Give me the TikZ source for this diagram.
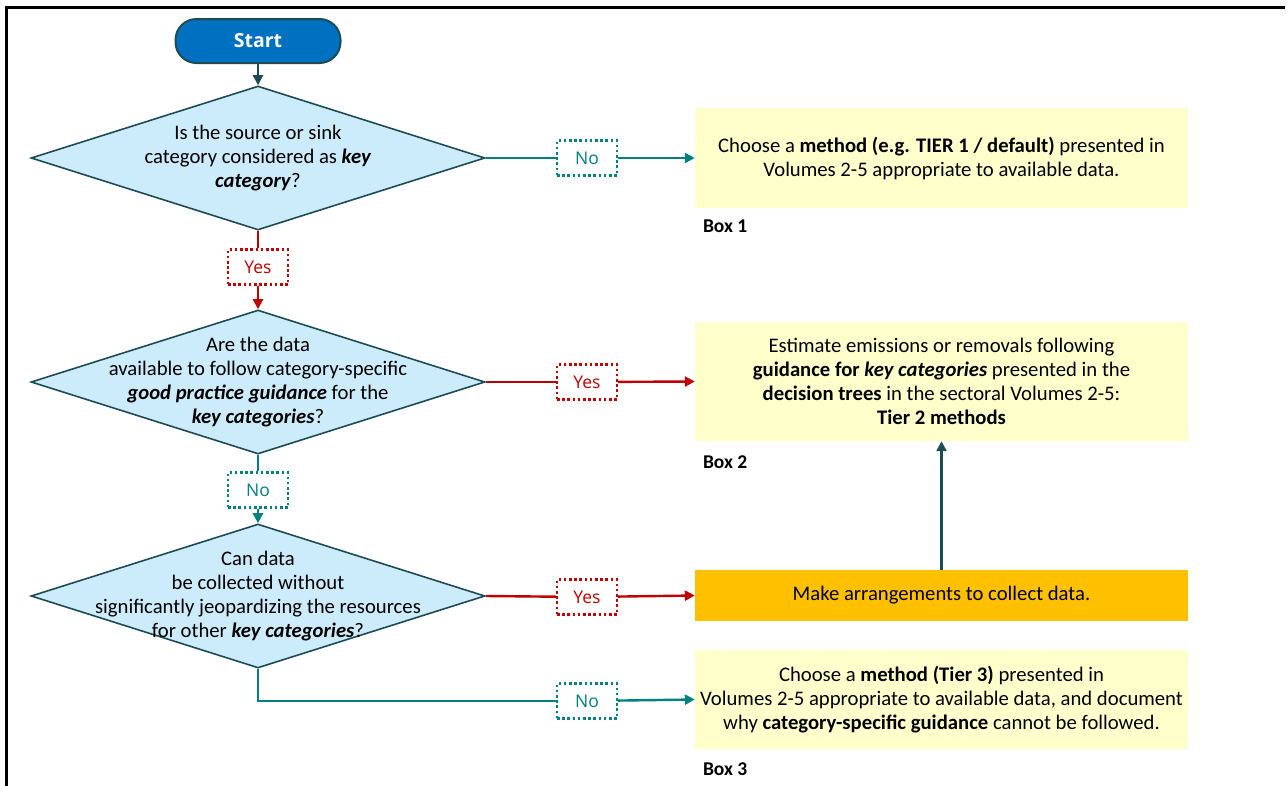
\documentclass[tikz,border=0pt]{standalone}
\usepackage{fontspec}
\setmainfont{Carlito}
\newfontfamily\tagfont{Open Sans}
\usepackage{tikz}
\usetikzlibrary{arrows.meta, shapes.geometric, positioning}
\definecolor{startblue}{RGB}{0,112,192}
\definecolor{darkslate}{RGB}{30,76,84}
\definecolor{diamondblue}{RGB}{204,236,252}
\definecolor{boxyellow}{RGB}{255,255,204}
\definecolor{collectorange}{RGB}{255,192,0}
\definecolor{noteal}{RGB}{0,128,128}
\definecolor{yesred}{RGB}{192,0,0}

\begin{document}
\begin{tikzpicture}[
  x=1pt, y=-1pt,
  node distance=10pt and 10pt,
  startbox/.style={draw=darkslate, line width=2pt, fill=startblue, rounded corners=21pt, minimum width=165pt, minimum height=44pt, text=white, font=\tagfont\fontsize{19.5}{22}\selectfont\bfseries},
  decision/.style={diamond, draw=darkslate, line width=1.6pt, fill=diamondblue, minimum width=454pt, minimum height=144pt, inner sep=0pt},
  qtext/.style={align=center, font=\fontsize{20.7}{24}\selectfont},
  result/.style={fill=boxyellow, minimum width=493pt, align=center, font=\fontsize{20.7}{24}\selectfont},
  collectbox/.style={result, fill=collectorange, minimum height=51pt},
  tagbox/.style={line width=2.4pt, dash pattern=on 2.6pt off 2.6pt, fill=white, minimum width=60pt, minimum height=35pt, inner sep=0pt, font=\tagfont\fontsize{17.5}{20}\selectfont},
  yestag/.style={tagbox, draw=yesred, text=yesred},
  notag/.style={tagbox, draw=noteal, text=noteal},
  boxtag/.style={font=\fontsize{19.5}{22}\selectfont\bfseries, inner sep=0pt},
  flow/.style={line width=2.4pt},
  tip/.style={-{Triangle[length=10pt, width=10pt]}},
]
\useasboundingbox (0,0) rectangle (1288,785);
\draw[line width=3pt] (6,786) -- (6,7) -- (1285,7);

% question column
\node[startbox] (start) at (258,41) {Start};
\node[decision] (q1) at (258,158) {};
\node[qtext] at (q1) {Is the source or sink\\ category considered as \textbf{\textit{key}}\\ \textbf{\textit{category}}?};
\node[decision] (q2) at (258,382) {};
\node[qtext] at (q2) {Are the data\\ available to follow category-specific\\ \textbf{\textit{good practice guidance}} for the\\ \textbf{\textit{key categories}}?};
\node[decision] (q3) at (258,596) {};
\node[qtext] at (q3) {Can data\\ be collected without\\ significantly jeopardizing the resources\\ for other \textbf{\textit{key categories}}?};

% result boxes
\node[result, minimum height=100pt] (box1) at (941.5,158) {Choose a \textbf{method (e.g. TIER 1 / default)} presented in\\ Volumes 2-5 appropriate to available data.};
\node[result, minimum height=119pt] (box2) at (941.5,381.5) {Estimate emissions or removals following\\ \textbf{guidance for \textit{key categories}} presented in the\\ \textbf{decision trees} in the sectoral Volumes 2-5:\\ \textbf{Tier 2 methods}};
\node[collectbox] (collect) at (941.5,595.5) {Make arrangements to collect data.};
\node[result, minimum height=99pt] (box3) at (941.5,699.5) {Choose a \textbf{method (Tier 3)} presented in\\ Volumes 2-5 appropriate to available data, and document\\ why \textbf{category-specific guidance} cannot be followed.};

\node[boxtag, below right=11pt and 8pt of box1.south west] {Box 1};
\node[boxtag, below right=14pt and 8pt of box2.south west] {Box 2};
\node[boxtag, below right=13pt and 8pt of box3.south west] {Box 3};

% yes / no tags
\node[notag] (n1) at (587,158) {No};
\node[yestag] (y1) at (258,267) {Yes};
\node[yestag] (y2) at (587,382) {Yes};
\node[notag] (n2) at (258,490) {No};
\node[yestag] (y3) at (587,597) {Yes};
\node[notag] (n3) at (587,701) {No};

% connectors
\draw[flow, tip, darkslate] (start) -- (q1);
\draw[flow, noteal] (q1.east) -- (n1);
\draw[flow, tip, noteal] (n1) -- (box1.west);
\draw[flow, yesred] (q1.south) -- (y1);
\draw[flow, tip, yesred] (y1) -- (q2.north);
\draw[flow, yesred] (q2.east) -- (y2);
\draw[flow, tip, yesred] (y2) -- (box2.west);
\draw[flow, noteal] (q2.south) -- (n2);
\draw[flow, tip, noteal] (n2) -- (q3.north);
\draw[flow, yesred] (q3.east) -- (y3);
\draw[flow, tip, yesred] (y3) -- (collect.west);
\draw[flow, tip, darkslate] (collect.north) -- (box2.south);
\draw[flow, noteal] (q3.south) |- (n3.west);
\draw[flow, tip, noteal] (n3) -- (box3.west);
\end{tikzpicture}
\end{document}
